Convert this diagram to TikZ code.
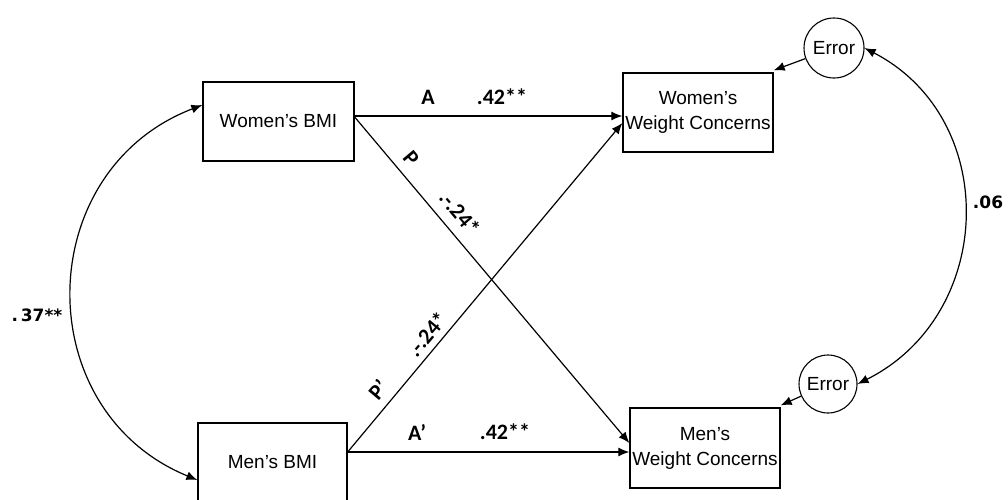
\documentclass[tikz,border=0pt]{standalone}
\usepackage{fontspec}
\setmainfont{Liberation Sans}
\newfontfamily\calib{Carlito}
\newfontfamily\dvs{DejaVu Sans}
\usetikzlibrary{arrows.meta,calc}
\begin{document}
\begin{tikzpicture}[x=1pt,y=-1pt,
  box/.style={draw,line width=1.3pt,inner sep=0pt,align=center,
    font=\fontsize{19}{25}\selectfont},
  errc/.style={draw,circle,line width=1.1pt,inner sep=0pt,minimum size=60pt,
    font=\fontsize{19}{23}\selectfont},
  arr/.style={line width=1.2pt,-{Latex[length=11pt,width=9pt]}},
  dbl/.style={line width=1.2pt,{Latex[length=11pt,width=9pt]}-{Latex[length=11pt,width=9pt]}},
  lab/.style={inner sep=0pt,font=\calib\bfseries\fontsize{22}{26}\selectfont},
  corr/.style={inner sep=0pt,font=\dvs\bfseries\fontsize{17}{20}\selectfont}]
\useasboundingbox (0,0) rectangle (1008,499);
\node[box,minimum width=151pt,minimum height=79pt] (wbmi) at (278.5,121.5) {Women's BMI};
\node[box,minimum width=149pt,minimum height=79pt] (mbmi) at (272.5,462.5) {Men's BMI};
\node[box,minimum width=150pt,minimum height=79pt] (wwc) at (698,112.5) {Women’s\\Weight Concerns};
\node[box,minimum width=150pt,minimum height=80pt] (mwc) at (705,448) {Men’s\\Weight Concerns};
\node[errc] (e1) at (834,48) {Error};
\node[errc,minimum size=58pt] (e2) at (828,384) {Error};
% paths
\draw[arr] ([yshift=5.5pt]wbmi.east) -- ([yshift=-3.5pt]wwc.west);
\draw[arr] ([yshift=4.5pt]wbmi.east) -- ([yshift=5pt]mwc.west);
\draw[arr] ([yshift=10.5pt]mbmi.east) -- ([yshift=-10.5pt]wwc.west);
\draw[arr] ([yshift=10.5pt]mbmi.east) -- ([yshift=-4pt]mwc.west);
\draw[arr] (e1) -- ([yshift=2pt]wwc.north east);
\draw[arr] (e2) -- ([yshift=2pt]mwc.north east);
\draw[dbl] ([yshift=16.5pt]wbmi.west) .. controls +(201:183pt) and +(157.7:183pt) .. ([yshift=-17.5pt]mbmi.west);
\draw[dbl] (e1.east) .. controls +(-27.4:154pt) and +(26.6:154pt) .. (e2.east);
% labels
\node[lab] (la) at (428,97) {A};
\node[lab] (la2) at (502,97) {.42**};
\node[lab] (lb) at (417,432) {A’};
\node[lab] (lb2) at (505,432) {.42**};
\node[lab,rotate=-50] (lp) at (411,158) {P};
\node[lab,rotate=-50] (lp2) at (460,213) {.-.24*};
\node[lab,rotate=50] (lq) at (378,390) {P’};
\node[lab,rotate=50] (lq2) at (427,334) {.-.24*};
\node[corr] (c1) at (37,315) {.\,37**};
\node[corr] (c2) at (988,202) {.06};
\end{tikzpicture}
\end{document}
